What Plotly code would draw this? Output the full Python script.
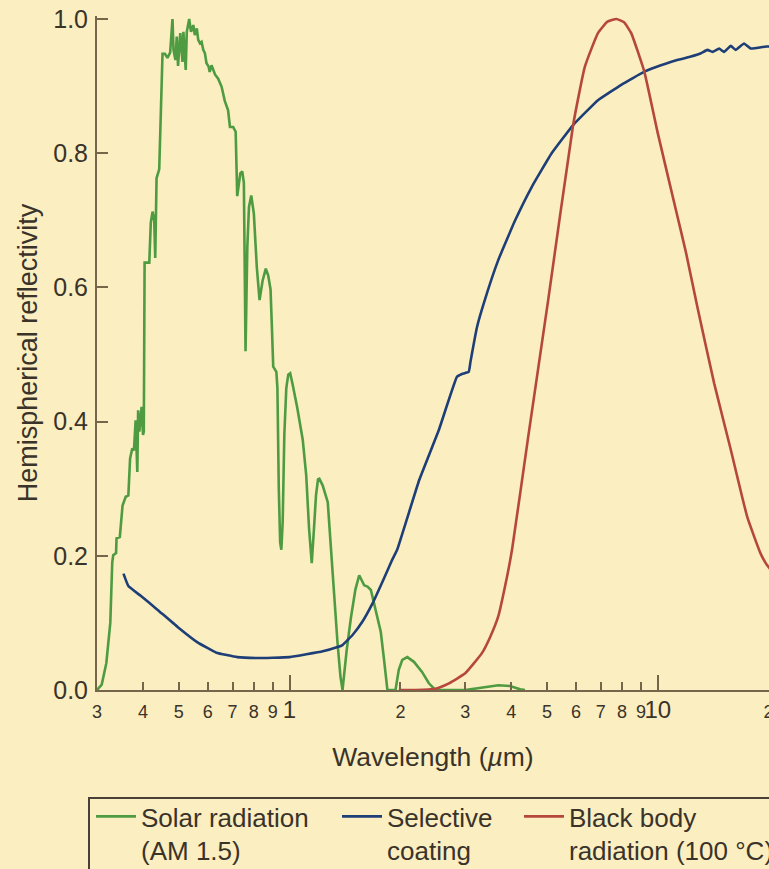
import math
import plotly.graph_objects as go

# ---------------- data ----------------
solar_wl = [0.300, 0.309, 0.318, 0.326, 0.330, 0.332, 0.338, 0.339, 0.346, 0.352,
            0.359, 0.365, 0.369, 0.374, 0.378, 0.382, 0.386, 0.388, 0.391, 0.3965,
            0.400, 0.402, 0.404, 0.416, 0.420, 0.4247, 0.429, 0.4318, 0.4354, 0.4427,
            0.4519, 0.459, 0.466, 0.474, 0.481, 0.484, 0.490, 0.494, 0.498, 0.505,
            0.512, 0.515, 0.5225, 0.526, 0.534, 0.540, 0.548, 0.553, 0.560, 0.565,
            0.571, 0.577, 0.583, 0.589, 0.595, 0.603, 0.607, 0.614, 0.621, 0.628,
            0.640, 0.654, 0.667, 0.681, 0.689, 0.703, 0.714, 0.718, 0.721, 0.735,
            0.744, 0.7516, 0.7595, 0.768, 0.776, 0.787, 0.800, 0.815, 0.829, 0.845,
            0.862, 0.875, 0.888, 0.897, 0.903, 0.921, 0.927, 0.935, 0.943, 0.950,
            0.958, 0.968, 0.980, 0.992, 1.004, 1.020, 1.050, 1.086, 1.110, 1.130,
            1.149, 1.165, 1.180, 1.195, 1.205, 1.230, 1.255, 1.270, 1.296, 1.323,
            1.350, 1.375, 1.393, 1.430, 1.470, 1.510, 1.546, 1.595, 1.628, 1.663,
            1.697, 1.733, 1.769, 1.806, 1.844, 1.940, 1.980, 2.024, 2.088, 2.177,
            2.290, 2.390, 2.490, 3.000, 3.400, 3.690, 3.970, 4.230, 4.360]
solar_refl = [0.000, 0.008, 0.040, 0.100, 0.190, 0.201, 0.204, 0.226, 0.228, 0.275,
              0.288, 0.290, 0.345, 0.360, 0.357, 0.402, 0.325, 0.417, 0.385, 0.422,
              0.380, 0.385, 0.637, 0.637, 0.697, 0.713, 0.700, 0.644, 0.763, 0.776,
              0.948, 0.948, 0.942, 0.950, 1.000, 0.954, 0.939, 0.974, 0.930, 0.979,
              0.936, 0.981, 0.924, 0.981, 1.000, 0.981, 0.991, 0.976, 0.986, 0.969,
              0.964, 0.966, 0.954, 0.949, 0.934, 0.929, 0.921, 0.931, 0.924, 0.917,
              0.911, 0.899, 0.878, 0.864, 0.839, 0.839, 0.832, 0.790, 0.736, 0.770,
              0.773, 0.756, 0.505, 0.660, 0.720, 0.737, 0.710, 0.630, 0.581, 0.610,
              0.628, 0.618, 0.597, 0.530, 0.482, 0.474, 0.450, 0.300, 0.220, 0.209,
              0.250, 0.380, 0.450, 0.470, 0.472, 0.455, 0.420, 0.373, 0.320, 0.240,
              0.189, 0.240, 0.290, 0.314, 0.315, 0.305, 0.290, 0.280, 0.210, 0.134,
              0.070, 0.020, 0.000, 0.060, 0.110, 0.150, 0.171, 0.156, 0.154, 0.149,
              0.129, 0.109, 0.087, 0.045, 0.000, 0.000, 0.030, 0.045, 0.049, 0.042,
              0.027, 0.010, 0.000, 0.000, 0.004, 0.007, 0.006, 0.001, 0.000]

coating_wl = [0.354, 0.365, 0.395, 0.436, 0.4965, 0.5625, 0.633, 0.721, 0.8125, 1.000,
              1.231, 1.350, 1.393, 1.483, 1.578, 1.680, 1.787, 1.900, 1.960, 2.250,
              2.544, 2.850, 2.940, 3.066, 3.100, 3.230, 3.390, 3.690, 4.100, 4.550,
              5.150, 5.890, 6.880, 7.960, 9.200, 10.20, 11.30, 12.30, 13.10, 13.65,
              14.08, 14.68, 15.14, 15.79, 16.28, 17.15, 17.87, 19.70, 20.20]
coating_refl = [0.1735, 0.155, 0.140, 0.1205, 0.094, 0.071, 0.0556, 0.049, 0.0477, 0.049,
                0.0576, 0.064, 0.067, 0.082, 0.102, 0.129, 0.161, 0.194, 0.209, 0.313,
                0.3875, 0.467, 0.471, 0.474, 0.489, 0.541, 0.581, 0.641, 0.700, 0.750,
                0.800, 0.842, 0.879, 0.902, 0.9215, 0.931, 0.939, 0.944, 0.949, 0.954,
                0.951, 0.956, 0.951, 0.960, 0.954, 0.9635, 0.956, 0.959, 0.959]

blackbody_wl = [1.98, 2.20, 2.49, 2.71, 3.00, 3.33, 3.50, 3.69, 3.85, 4.02,
                4.45, 5.04, 5.89, 6.34, 6.88, 7.30, 7.72, 8.10, 8.47, 9.20,
                10.0, 11.32, 11.93, 12.82, 14.23, 15.79, 17.50, 19.00, 19.70, 20.20]
blackbody_refl = [0.000, 0.000, 0.002, 0.010, 0.025, 0.055, 0.078, 0.110, 0.155, 0.209,
                  0.378, 0.581, 0.842, 0.929, 0.979, 0.996, 1.000, 0.995, 0.979, 0.921,
                  0.830, 0.705, 0.652, 0.570, 0.457, 0.358, 0.258, 0.204, 0.188, 0.180]

x_tick_vals = [0.3, 0.4, 0.5, 0.6, 0.7, 0.8, 0.9, 1, 2, 3, 4, 5, 6, 7, 8, 9, 10, 20]
x_tick_text = ["3", "4", "5", "6", "7", "8", "9", "1", "2", "3", "4", "5", "6", "7",
               "8", "9", "10", "2"]
x_major_vals = [1, 10]
y_tick_vals = [0.0, 0.2, 0.4, 0.6, 0.8, 1.0]
y_tick_text = ["0.0", "0.2", "0.4", "0.6", "0.8", "1.0"]

series_names = ["Solar radiation<br>(AM 1.5)", "Selective<br>coating",
                "Black body<br>radiation (100 °C)"]

# ---------------- styling ----------------
BG = "#FBEEC0"
AX = "#75654B"
TXT = "#3A332A"
GREEN = "#4E9B42"
BLUE = "#1E3E78"
RED = "#B5473D"
FONT = "Liberation Sans, Arial, sans-serif"

W, H = 769, 869
L, R, T, B = 97, 0, 16, 179
PW, PH = W - L - R, H - T - B


def px_x(p):
    return (p - L) / PW


def px_y(p):
    return (H - B - p) / PH


tick_text_fmt = [
    ("<span style='font-size:24px'>%s</span>" % t) if v in x_major_vals else t
    for v, t in zip(x_tick_vals, x_tick_text)
]

xrange_ = [math.log10(0.3), math.log10(20.05)]

fig = go.Figure()
fig.add_trace(go.Scatter(x=solar_wl, y=solar_refl, mode="lines", name=series_names[0],
                         line=dict(color=GREEN, width=2.6), legend="legend"))
fig.add_trace(go.Scatter(x=coating_wl, y=coating_refl, mode="lines", name=series_names[1],
                         line=dict(color=BLUE, width=2.6, shape="spline", smoothing=0.3),
                         legend="legend2"))
fig.add_trace(go.Scatter(x=blackbody_wl, y=blackbody_refl, mode="lines", name=series_names[2],
                         line=dict(color=RED, width=2.6, shape="spline", smoothing=0.4),
                         legend="legend3"))
# empty trace to carry the overlay axis with the longer decade ticks
fig.add_trace(go.Scatter(x=[], y=[], xaxis="x2", yaxis="y", showlegend=False,
                         hoverinfo="skip"))

leg_common = dict(bgcolor="rgba(0,0,0,0)", borderwidth=0, orientation="v",
                  xanchor="left", yanchor="top", valign="top", itemwidth=40,
                  font=dict(family=FONT, size=26, color=TXT))

fig.update_layout(
    width=W, height=H,
    margin=dict(l=L, r=R, t=T, b=B, pad=0, autoexpand=False),
    paper_bgcolor=BG, plot_bgcolor=BG,
    font=dict(family=FONT, color=TXT),
    xaxis=dict(type="log", range=xrange_, tickmode="array", tickvals=x_tick_vals,
               ticktext=tick_text_fmt, ticks="inside", ticklen=8, tickwidth=2,
               tickangle=0, automargin=False, ticklabelstandoff=4,
               ticklabeloverflow="allow",
               tickcolor=AX, showline=True, linecolor=AX, linewidth=2,
               showgrid=False, zeroline=False,
               tickfont=dict(family=FONT, size=18, color=TXT),
               title=dict(text="Wavelength (<i>µ</i>m)", standoff=26,
                          font=dict(family=FONT, size=26.5, color=TXT))),
    xaxis2=dict(type="log", range=xrange_, overlaying="x", anchor="y", side="bottom",
                tickmode="array", tickvals=x_major_vals, ticks="inside", ticklen=15,
                tickwidth=2, tickcolor=AX, showticklabels=False, showline=False,
                showgrid=False, zeroline=False, automargin=False),
    yaxis=dict(range=[0, 1.0045], tickmode="array", tickvals=y_tick_vals,
               ticktext=y_tick_text, ticks="inside", ticklen=11, tickwidth=2,
               tickcolor=AX, showline=True, linecolor=AX, linewidth=2,
               showgrid=False, zeroline=False, automargin=False,
               ticklabelstandoff=2,
               tickfont=dict(family=FONT, size=25, color=TXT),
               title=dict(text="Hemispherical reflectivity", standoff=8,
                          font=dict(family=FONT, size=27, color=TXT))),
    legend=dict(x=px_x(91), y=px_y(793), **leg_common),
    legend2=dict(x=px_x(337), y=px_y(793), **leg_common),
    legend3=dict(x=px_x(519), y=px_y(793), **leg_common),
    shapes=[dict(type="rect", xref="paper", yref="paper",
                 x0=px_x(89), x1=px_x(800), y0=px_y(798), y1=px_y(900),
                 line=dict(color="#4A4038", width=2), fillcolor="rgba(0,0,0,0)")],
    showlegend=True,
)

fig.write_html("out.html", config={"displayModeBar": False},
               post_script="document.body.style.margin='0';"
                           "document.body.style.overflow='hidden';")
